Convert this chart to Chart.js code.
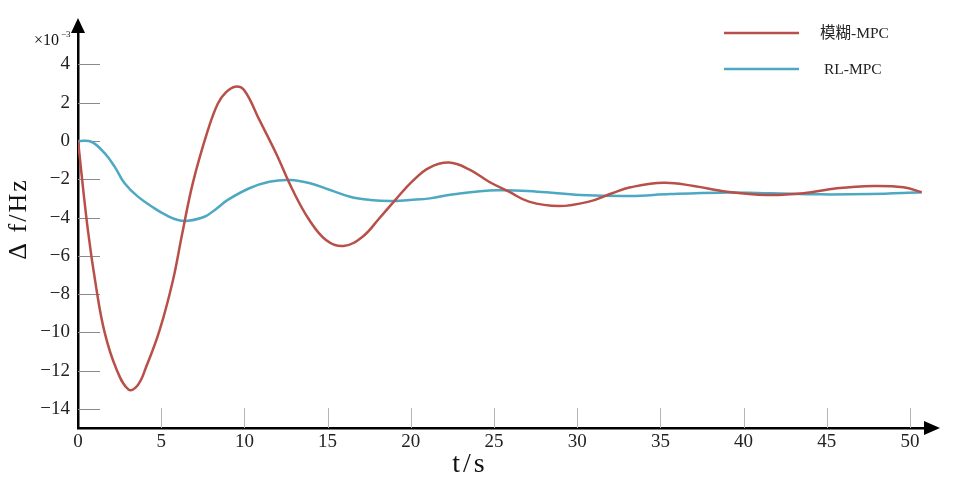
<!DOCTYPE html>
<html lang="zh">
<head>
<meta charset="UTF-8">
<title>频率偏差响应</title>
<script src="https://cdn.jsdelivr.net/npm/chart.js"></script>
<style>
  html, body { margin: 0; padding: 0; background: #fff; }
</style>
</head>
<body>
<canvas id="myChart" width="958" height="485"></canvas>
<script>
// 数据 (Δf, 单位 ×10^-3 Hz)
const fuzzyT  = [0, 0.6, 1.1, 1.6, 2.3, 3.05, 3.6, 4.1, 4.9, 5.7, 6.25, 6.9, 7.8, 8.4, 8.9, 9.45, 10.0, 10.9, 11.9, 12.9, 13.9, 14.9, 15.95, 17.1, 18.1, 19.1, 20.1, 21.1, 22.3, 23.5, 24.7, 25.9, 27.1, 28.9, 30.7, 32.1, 33.2, 35.2, 37.0, 39.0, 41.4, 43.6, 45.6, 47.8, 49.6, 50.7];
const fuzzyDf = [0, -4.7, -7.7, -10.0, -11.9, -13.0, -12.75, -11.8, -9.9, -7.3, -4.9, -2.2, 0.55, 1.95, 2.55, 2.84, 2.64, 1.1, -0.64, -2.56, -4.13, -5.17, -5.49, -5.0, -4.05, -3.05, -2.1, -1.4, -1.13, -1.48, -2.13, -2.65, -3.17, -3.40, -3.17, -2.73, -2.42, -2.18, -2.35, -2.65, -2.82, -2.73, -2.47, -2.35, -2.42, -2.68];
const rlT  = [0, 0.8, 1.6, 2.2, 2.8, 3.6, 4.6, 5.3, 6.0, 6.6, 7.6, 8.3, 9.0, 10.3, 11.5, 12.75, 13.95, 15.15, 16.35, 17.55, 18.75, 19.95, 21.15, 22.6, 25.2, 27.6, 30.2, 33.2, 35.6, 38.6, 41.6, 44.6, 47.6, 50.7];
const rlDf = [0, -0.04, -0.64, -1.34, -2.21, -2.91, -3.52, -3.88, -4.13, -4.17, -3.96, -3.55, -3.08, -2.47, -2.13, -2.04, -2.21, -2.56, -2.91, -3.08, -3.14, -3.08, -3.0, -2.78, -2.58, -2.65, -2.82, -2.87, -2.77, -2.7, -2.73, -2.79, -2.77, -2.68];

const seriesNames  = ['模糊-MPC', 'RL-MPC'];
const seriesColors = ['#B84F48', '#4DA8C2'];
const xTicks = [0, 5, 10, 15, 20, 25, 30, 35, 40, 45, 50];
const yTicks = [-14, -12, -10, -8, -6, -4, -2, 0, 2, 4];

const serif = "'Liberation Serif', 'DejaVu Serif', serif";

function toPoints(xs, ys) {
    return xs.map((x, i) => ({ x: x, y: ys[i] }));
}

// 坐标轴箭头、刻度线、标题、图例
const decorations = {
    id: 'decorations',
    beforeDatasetsDraw(chart) {
        const ctx = chart.ctx;
        const xs = chart.scales.x, ys = chart.scales.y;
        ctx.save();
        ctx.lineWidth = 1;
        ctx.strokeStyle = '#8a8a8a';
        yTicks.forEach(v => {
            const py = Math.round(ys.getPixelForValue(v)) + 0.5;
            ctx.beginPath();
            ctx.moveTo(xs.left, py);
            ctx.lineTo(xs.left + 22, py);
            ctx.stroke();
        });
        ctx.strokeStyle = '#b5b5b5';
        xTicks.forEach(v => {
            if (v === 0) return;
            const px = Math.round(xs.getPixelForValue(v)) + 0.5;
            ctx.beginPath();
            ctx.moveTo(px, ys.bottom - 20);
            ctx.lineTo(px, ys.bottom);
            ctx.stroke();
        });
        ctx.restore();
    },
    afterDraw(chart) {
        const ctx = chart.ctx;
        const area = chart.chartArea;
        ctx.save();

        // 箭头
        ctx.fillStyle = '#000';
        ctx.beginPath();
        ctx.moveTo(area.left, area.top - 12);
        ctx.lineTo(area.left - 7, area.top + 3);
        ctx.lineTo(area.left + 7, area.top + 3);
        ctx.closePath();
        ctx.fill();
        ctx.beginPath();
        ctx.moveTo(area.right + 15, area.bottom);
        ctx.lineTo(area.right - 1, area.bottom - 7);
        ctx.lineTo(area.right - 1, area.bottom + 7);
        ctx.closePath();
        ctx.fill();

        // 轴标题
        ctx.fillStyle = '#111';
        ctx.textAlign = 'center';
        ctx.textBaseline = 'middle';
        ctx.font = '28px ' + serif;
        ctx.letterSpacing = '3px';
        ctx.fillText('t/s', 470, 465);
        ctx.save();
        ctx.translate(19, 219);
        ctx.rotate(-Math.PI / 2);
        ctx.font = '26px ' + serif;
        ctx.letterSpacing = '2px';
        ctx.fillText('\u0394 f/Hz', 0, 0);
        ctx.restore();
        ctx.letterSpacing = '0px';

        // ×10^-3
        ctx.textAlign = 'left';
        ctx.textBaseline = 'alphabetic';
        ctx.font = '16px ' + serif;
        ctx.fillText('\u00d710', 34, 45);
        ctx.font = '9px ' + serif;
        ctx.fillText('\u22123', 61, 37);

        // 图例
        ctx.textBaseline = 'middle';
        ctx.font = "15.5px 'Liberation Serif', 'Noto Sans CJK SC', serif";
        const rows = [33, 69];
        const textX = [820, 824];
        chart.data.datasets.forEach((ds, i) => {
            ctx.strokeStyle = ds.borderColor;
            ctx.lineWidth = 2.5;
            ctx.beginPath();
            ctx.moveTo(724, rows[i]);
            ctx.lineTo(799, rows[i]);
            ctx.stroke();
            ctx.fillStyle = '#222';
            ctx.fillText(ds.label, textX[i], rows[i] + 1);
        });
        ctx.restore();
    }
};

const data = {
    datasets: [
        { label: seriesNames[0], data: toPoints(fuzzyT, fuzzyDf), borderColor: seriesColors[0], tension: 0.4 },
        { label: seriesNames[1], data: toPoints(rlT, rlDf), borderColor: seriesColors[1], tension: 0.4 }
    ]
};

const tickFont = { family: serif, size: 19 };

const config = {
    type: 'line',
    data: data,
    options: {
        responsive: false,
        animation: false,
        devicePixelRatio: 1,
        layout: { padding: { top: 30, right: 33, left: 0, bottom: 0 } },
        elements: {
            line: { borderWidth: 2.5, fill: false },
            point: { radius: 0 }
        },
        plugins: {
            legend: { display: false },
            tooltip: { enabled: false }
        },
        scales: {
            x: {
                type: 'linear',
                min: 0,
                max: 50.9,
                grid: { display: true, drawOnChartArea: false, drawTicks: false },
                border: { display: true, color: '#000', width: 2.5 },
                ticks: { font: tickFont, color: '#222', padding: 3 },
                afterBuildTicks: s => { s.ticks = xTicks.map(v => ({ value: v })); },
                afterFit: s => { s.height = 57; }
            },
            y: {
                type: 'linear',
                min: -15,
                max: 5.8,
                grid: { display: true, drawOnChartArea: false, drawTicks: false },
                border: { display: true, color: '#000', width: 2.5 },
                ticks: {
                    font: tickFont, color: '#222', padding: 8,
                    callback: v => (v < 0 ? '\u2212' + Math.abs(v) : String(v))
                },
                afterBuildTicks: s => { s.ticks = yTicks.map(v => ({ value: v })); },
                afterFit: s => { s.width = 78; }
            }
        }
    },
    plugins: [decorations]
};

const myChart = new Chart(document.getElementById('myChart'), config);
</script>
</body>
</html>
